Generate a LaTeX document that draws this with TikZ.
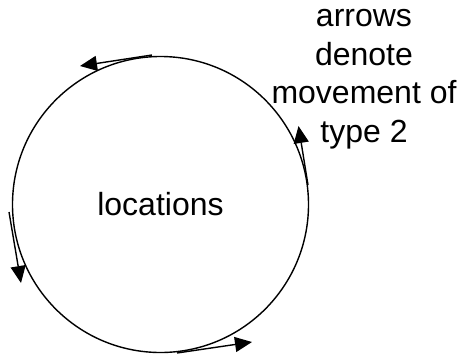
\documentclass[tikz,border=0pt]{standalone}
\usepackage{fontspec}
\setmainfont{Liberation Sans}
\usetikzlibrary{arrows.meta}
\begin{document}
\begin{tikzpicture}[x=1pt,y=-1pt,
  bigtext/.style={font=\fontsize{32}{38.5}\selectfont, inner sep=0pt},
  mover/.style={line width=1.4pt, -{Triangle[length=17pt,width=15pt]}},
  ring/.style={draw, circle, line width=1.4pt, minimum size=296pt, inner sep=0pt}]
\useasboundingbox (0,0) rectangle (460,354);
\node[ring, bigtext] (loc) at (160.5,204.5) {locations};
\node[bigtext, align=center, anchor=base] (note) at (364,142) {arrows\\denote\\movement of\\type 2};
\coordinate (a1s) at (152,55);  \coordinate (a1e) at (80,66);
\coordinate (a2s) at (308,185); \coordinate (a2e) at (298.5,126);
\coordinate (a3s) at (9,212);   \coordinate (a3e) at (21,283);
\coordinate (a4s) at (177,353); \coordinate (a4e) at (252,342);
\draw[mover] (a1s) -- (a1e);
\draw[mover] (a2s) -- (a2e);
\draw[mover] (a3s) -- (a3e);
\draw[mover] (a4s) -- (a4e);
\end{tikzpicture}
\end{document}
